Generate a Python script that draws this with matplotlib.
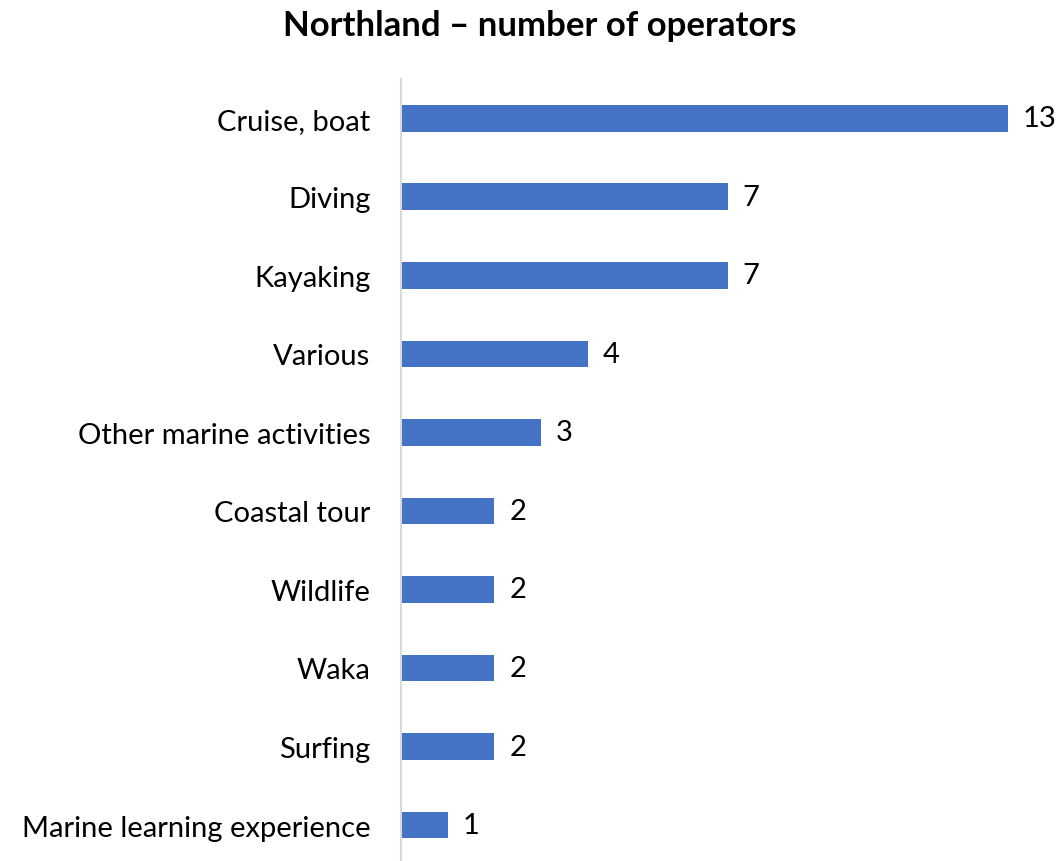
import numpy as np
import matplotlib.pyplot as plt

plt.rcParams['font.family'] = ['Lato', 'DejaVu Sans']

categories = ['Cruise, boat', 'Diving', 'Kayaking', 'Various', 'Other marine activities',
              'Coastal tour', 'Wildlife', 'Waka', 'Surfing', 'Marine learning experience']
operators = [13, 7, 7, 4, 3, 2, 2, 2, 2, 1]

fig = plt.figure(figsize=(10.59, 8.62), dpi=100)
ax = fig.add_axes([401/1059, 0, 607/1059, 782/862])

y = np.arange(len(categories))
ax.barh(y, operators, height=0.34, color='#4472C4')
for yi, v in zip(y, operators):
    ax.text(v + 0.32, yi, str(v), va='center', ha='left', fontsize=21, clip_on=False)

ax.set_xlim(0, 13)
ax.set_ylim(9.458, -0.5)
ax.set_yticks(y)
ax.set_yticklabels(categories, fontsize=21)
ax.tick_params(axis='y', length=0, pad=22)
ax.set_xticks([])
for s in ['top', 'right', 'bottom']:
    ax.spines[s].set_visible(False)
ax.spines['left'].set_color('#D9D9D9')
ax.spines['left'].set_linewidth(1.5)

fig.text(540/1059, 1 - 26/862, 'Northland – number of operators', ha='center', va='center',
         fontsize=25, fontweight='bold')

fig.savefig('out.png', dpi=100)
